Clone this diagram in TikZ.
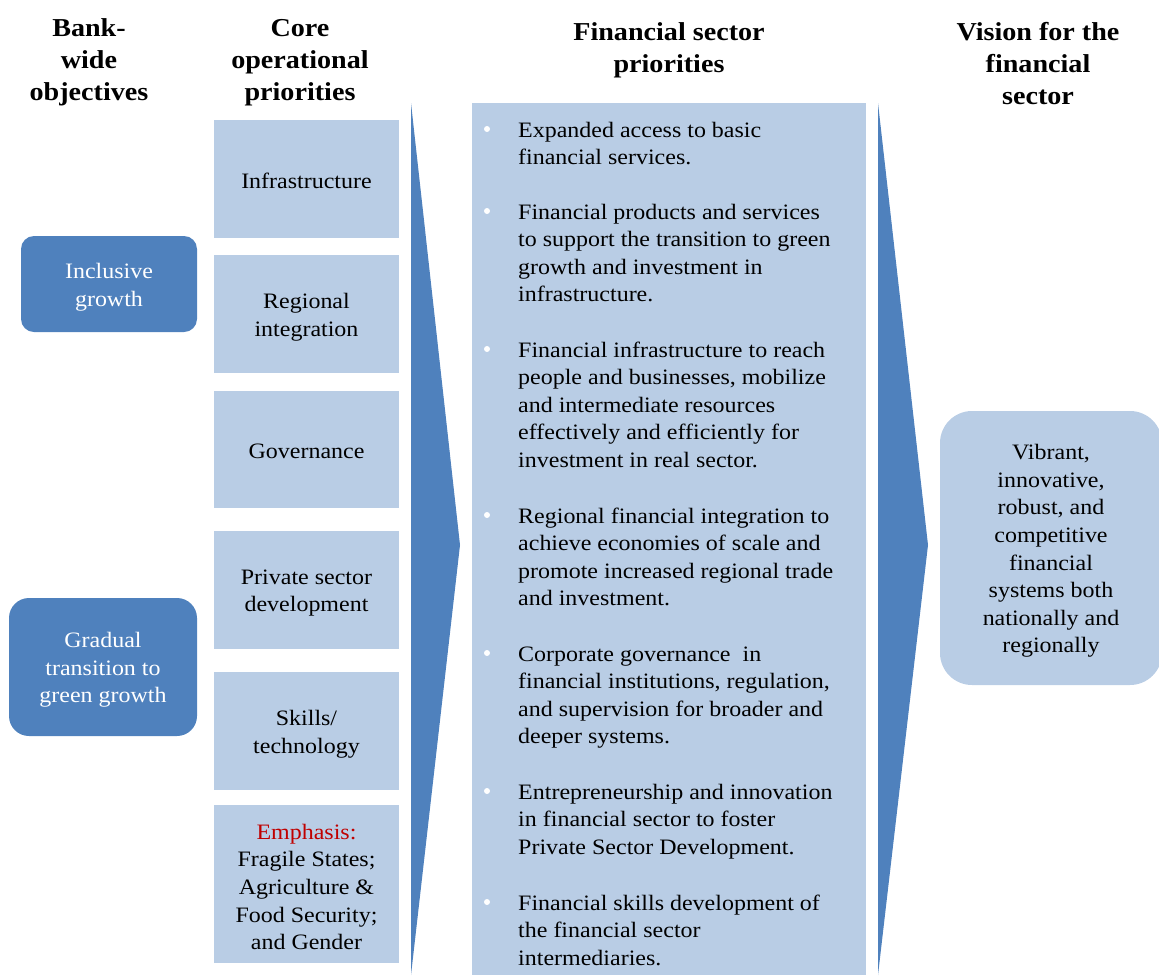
\documentclass[tikz,border=0pt]{standalone}
\usepackage{fontspec}
\setmainfont{Liberation Serif}[FakeStretch=1.09]
\definecolor{deepblue}{HTML}{4F81BD}
\definecolor{paleblue}{HTML}{B9CDE5}
\definecolor{emphred}{HTML}{C00000}
% paragraph whose reference point is the baseline of its first line
\newcommand\firstline[2]{\parbox[t]{#1}{#2}}
\newcommand\firstlinec[2]{\parbox[t]{#1}{\centering #2}}
\begin{document}
\begin{tikzpicture}[x=1pt,y=-1pt,
  body/.style={font=\fontsize{22}{27.6}\selectfont, text=black},
  heading/.style={font=\fontsize{25.8}{32.3}\selectfont\bfseries, inner sep=0pt, anchor=base},
  corebox/.style={fill=paleblue, draw=none, minimum width=185pt, inner sep=0pt},
  goalbox/.style={fill=deepblue, draw=none, inner sep=0pt},
  visionbox/.style={fill=paleblue, draw=none, inner sep=0pt, rounded corners=32pt},
  boxtext/.style={body, align=center, inner sep=0pt},
  goaltext/.style={boxtext, text=white},
  flowarrow/.style={fill=deepblue, draw=none},
  dot/.style={circle, fill=white, draw=none, minimum size=6pt, inner sep=0pt},
  item/.style={body, inner sep=0pt, anchor=base west}]
\useasboundingbox (0,0) rectangle (1159,975);

% column headings
\node[heading] (hbank) at (89,36) {\firstlinec{200pt}{Bank-\\wide\\objectives}};
\node[heading] (hcore) at (300,36) {\firstlinec{200pt}{Core\\operational\\priorities}};
\node[heading] (hfin) at (669,40) {\firstlinec{300pt}{Financial sector\\priorities}};
\node[heading] (hvis) at (1038,40) {\firstlinec{220pt}{Vision for the\\financial\\sector}};

% bank-wide objectives
\node[goalbox, minimum width=176pt, minimum height=96pt, rounded corners=13pt] (incl) at (109,284) {};
\node[goaltext] (incl-t) at ([yshift=-3pt]incl.center) {Inclusive\\growth};
\node[goalbox, minimum width=188pt, minimum height=138pt, rounded corners=20pt] (green) at (103,667) {};
\node[goaltext] (green-t) at ([yshift=-3pt]green.center) {Gradual\\transition to\\green growth};

% core operational priorities
\node[corebox, minimum height=118pt] (infra) at (306.5,179) {};
\node[boxtext] (infra-t) at ([yshift=-2pt]infra.center) {Infrastructure};
\node[corebox, minimum height=118pt] (regio) at (306.5,314) {};
\node[boxtext] (regio-t) at ([yshift=-3pt]regio.center) {Regional\\integration};
\node[corebox, minimum height=117pt] (gov) at (306.5,449.5) {};
\node[boxtext] (gov-t) at ([yshift=-2pt]gov.center) {Governance};
\node[corebox, minimum height=118pt] (priv) at (306.5,590) {};
\node[boxtext] (priv-t) at ([yshift=-3pt]priv.center) {Private sector\\development};
\node[corebox, minimum height=118pt] (skill) at (306.5,731) {};
\node[boxtext] (skill-t) at ([yshift=-3pt]skill.center) {Skills/\\technology};
\node[corebox, minimum height=158pt] (emph) at (306.5,884) {};
\node[boxtext] (emph-t) at ([yshift=-3pt]emph.center) {\textcolor{emphred}{Emphasis:}\\Fragile States;\\Agriculture \&\\Food Security;\\and Gender};

% arrows between the columns
\coordinate (a1top) at (411,103);
\coordinate (a1tip) at (460,545);
\coordinate (a1bot) at (411,975);
\fill[flowarrow] (a1top) -- (a1tip) -- (a1bot) -- cycle;
\coordinate (a2top) at (878,103);
\coordinate (a2tip) at (928,545);
\coordinate (a2bot) at (878,975);
\fill[flowarrow] (a2top) -- (a2tip) -- (a2bot) -- cycle;

% financial sector priorities
\node[fill=paleblue, draw=none, minimum width=394pt, minimum height=872pt, inner sep=0pt] (fsp) at (669,539) {};

\node[dot] (b1) at (487,129) {};
\node[item] (p1) at (518,137) {\firstline{345pt}{Expanded access to basic\\financial services.}};
\node[dot] (b2) at (487,211) {};
\node[item] (p2) at (518,219) {\firstline{345pt}{Financial products and services\\to support the transition to green\\growth and investment in\\infrastructure.}};
\node[dot] (b3) at (487,349) {};
\node[item] (p3) at (518,357) {\firstline{345pt}{Financial infrastructure to reach\\people and businesses, mobilize\\and intermediate resources\\effectively and efficiently for\\investment in real sector.}};
\node[dot] (b4) at (487,515) {};
\node[item] (p4) at (518,523) {\firstline{345pt}{Regional financial integration to\\achieve economies of scale and\\promote increased regional trade\\and investment.}};
\node[dot] (b5) at (487,653) {};
\node[item] (p5) at (518,661) {\firstline{345pt}{Corporate governance\ \ in\\financial institutions, regulation,\\and supervision for broader and\\deeper systems.}};
\node[dot] (b6) at (487,791) {};
\node[item] (p6) at (518,799) {\firstline{345pt}{Entrepreneurship and innovation\\in financial sector to foster\\Private Sector Development.}};
\node[dot] (b7) at (487,902) {};
\node[item] (p7) at (518,910) {\firstline{345pt}{Financial skills development of\\the financial sector\\intermediaries.}};

% vision
\node[visionbox, minimum width=222pt, minimum height=274pt] (vis) at (1051,548) {};
\node[boxtext] (vis-t) at ([yshift=-3pt]vis.center) {Vibrant,\\innovative,\\robust, and\\competitive\\financial\\systems both\\nationally and\\regionally};
\end{tikzpicture}
\end{document}
